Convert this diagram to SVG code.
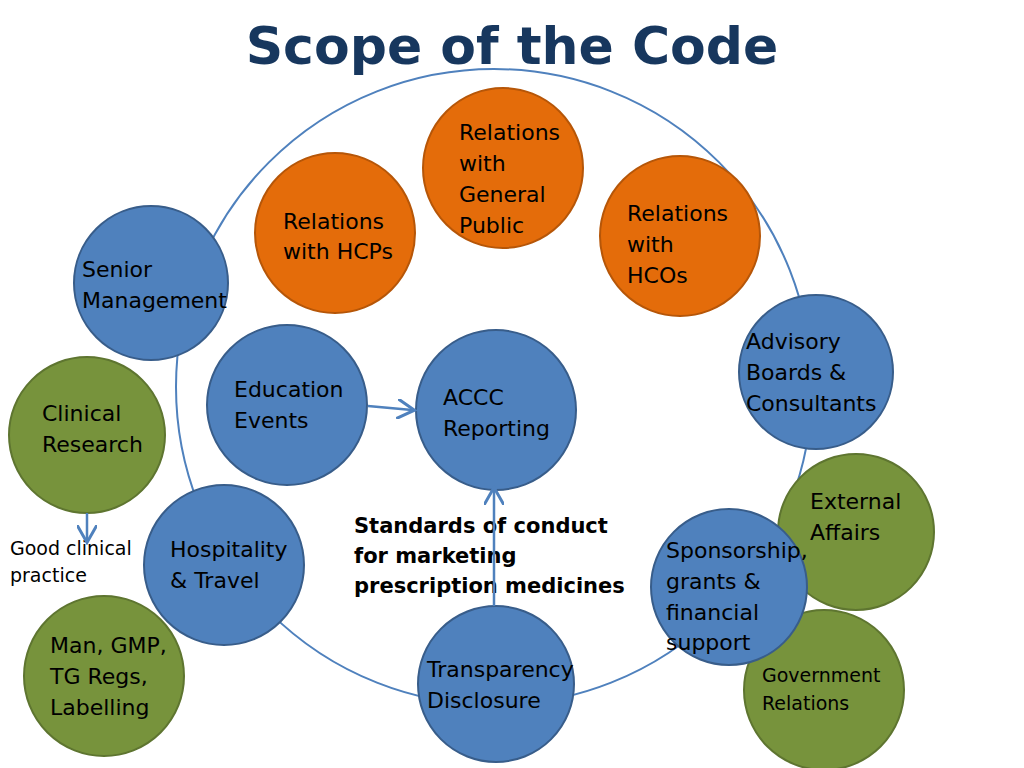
<svg xmlns="http://www.w3.org/2000/svg" width="1024" height="768" viewBox="0 0 1024 768">
<style>
.o{fill:#E46C0A;stroke:#B65608;stroke-width:2}
.b{fill:#4F81BD;stroke:#385D8A;stroke-width:2}
.g{fill:#77933C;stroke:#5E7530;stroke-width:2}
text{font-family:"DejaVu Sans","Liberation Sans",sans-serif;font-size:22px;fill:#000}
.s{font-size:19px}
.c{stroke:#4F81BD;stroke-width:2.5;fill:none}
</style>
<defs><marker id="a" markerWidth="8" markerHeight="8" refX="6" refY="4" orient="auto" markerUnits="strokeWidth"><path d="M0,0 L7,4 L0,8" fill="none" stroke="#4F81BD" stroke-width="1.2"/></marker></defs>
<rect width="1024" height="768" fill="#fff"/>
<text x="512" y="64" text-anchor="middle" style="font-size:52px;font-weight:bold;fill:#17375E">Scope of the Code</text>
<circle cx="494" cy="387" r="318" fill="none" stroke="#4F81BD" stroke-width="2"/>
<g id="hcps"><circle class="o" cx="335" cy="233" r="80"/><text x="283" y="229">Relations</text><text x="283" y="259">with HCPs</text></g>
<g id="public"><circle class="o" cx="503" cy="168" r="80"/><text x="459" y="140">Relations</text><text x="459" y="171">with</text><text x="459" y="202">General</text><text x="459" y="233">Public</text></g>
<g id="hcos"><circle class="o" cx="680" cy="236" r="80"/><text x="627" y="221">Relations</text><text x="627" y="252">with</text><text x="627" y="283">HCOs</text></g>
<g id="senior"><circle class="b" cx="151" cy="283" r="77"/><text x="82" y="277">Senior</text><text x="82" y="308">Management</text></g>
<g id="clinical"><circle class="g" cx="87" cy="435" r="78"/><text x="42" y="421">Clinical</text><text x="42" y="452">Research</text></g>
<g id="education"><circle class="b" cx="287" cy="405" r="80"/><text x="234" y="397">Education</text><text x="234" y="428">Events</text></g>
<g id="accc"><circle class="b" cx="496" cy="410" r="80"/><text x="443" y="405">ACCC</text><text x="443" y="436">Reporting</text></g>
<g id="advisory"><circle class="b" cx="816" cy="372" r="77"/><text x="746" y="349">Advisory</text><text x="746" y="380">Boards &amp;</text><text x="746" y="411">Consultants</text></g>
<g id="external"><circle class="g" cx="856" cy="532" r="78"/><text x="810" y="509">External</text><text x="810" y="540">Affairs</text></g>
<g id="government"><circle class="g" cx="824" cy="690" r="80"/><text class="s" x="762" y="682">Government</text><text class="s" x="762" y="710">Relations</text></g>
<g id="sponsorship"><circle class="b" cx="729" cy="587" r="78"/><text x="666" y="558">Sponsorship,</text><text x="666" y="589">grants &amp;</text><text x="666" y="620">financial</text><text x="666" y="650">support</text></g>
<g id="hospitality"><circle class="b" cx="224" cy="565" r="80"/><text x="170" y="557">Hospitality</text><text x="170" y="588">&amp; Travel</text></g>
<g id="man"><circle class="g" cx="104" cy="676" r="80"/><text x="50" y="653">Man, GMP,</text><text x="50" y="684">TG Regs,</text><text x="50" y="715">Labelling</text></g>
<g id="transparency"><circle class="b" cx="496" cy="684" r="78"/><text x="427" y="677">Transparency</text><text x="427" y="708">Disclosure</text></g>
<g id="labels"><text class="s" x="10" y="555">Good clinical</text><text class="s" x="10" y="582">practice</text>
<text x="354" y="533" style="font-weight:bold;font-size:21px">Standards of conduct</text><text x="354" y="563" style="font-weight:bold;font-size:21px">for marketing</text><text x="354" y="593" style="font-weight:bold;font-size:21px">prescription medicines</text></g>
<g id="connectors">
<line class="c" x1="368" y1="406" x2="412" y2="410" marker-end="url(#a)"/>
<line class="c" x1="494" y1="606" x2="494" y2="490" marker-end="url(#a)"/>
<line class="c" x1="87" y1="513" x2="87" y2="540" marker-end="url(#a)"/>
</g>
</svg>
